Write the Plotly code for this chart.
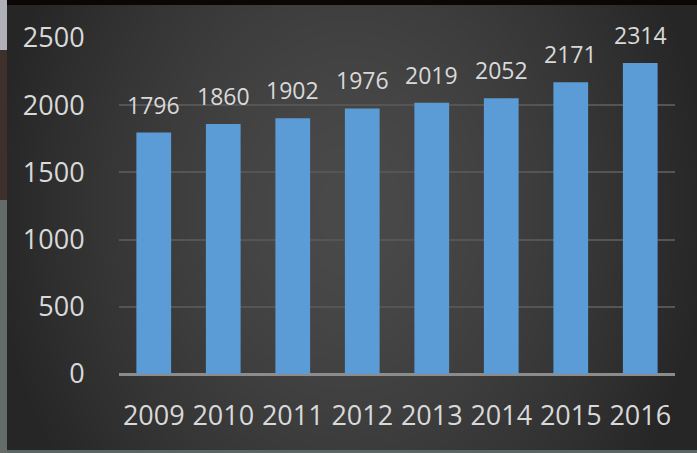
import base64, struct, zlib
import numpy as np
import plotly.graph_objects as go

years = ["2009", "2010", "2011", "2012", "2013", "2014", "2015", "2016"]
values = [1796, 1860, 1902, 1976, 2019, 2052, 2171, 2314]
y_ticks = [0, 500, 1000, 1500, 2000, 2500]

W, H = 697, 453
ML, MR, MT, MB = 119, 22, 38, 79


def make_png(arr):
    h, w, _ = arr.shape
    raw = b"".join(b"\x00" + arr[i].tobytes() for i in range(h))

    def chunk(tag, data):
        c = struct.pack(">I", len(data)) + tag + data
        return c + struct.pack(">I", zlib.crc32(tag + data) & 0xFFFFFFFF)

    png = b"\x89PNG\r\n\x1a\n"
    png += chunk(b"IHDR", struct.pack(">IIBBBBB", w, h, 8, 2, 0, 0, 0))
    png += chunk(b"IDAT", zlib.compress(raw, 9))
    png += chunk(b"IEND", b"")
    return "data:image/png;base64," + base64.b64encode(png).decode()


yy, xx = np.mgrid[0:H, 0:W].astype(float)
t = np.sqrt(((xx - 350) / 360.0) ** 2 + ((yy - 210) / 450.0) ** 2)
t = np.clip(t, 0, 1) ** 1.5
g = 74 - (74 - 38) * t
bg = np.stack([g, g, g], axis=-1)
bg[yy < 5] = [12, 7, 4]
bg[yy >= 450] = [88, 102, 100]
lm = xx < 7
bg[lm & (yy < 50)] = [176, 176, 184]
bg[lm & (yy >= 50) & (yy < 200)] = [62, 48, 42]
bg[lm & (yy >= 200)] = [100, 108, 104]
bg_uri = make_png(np.clip(bg, 0, 255).astype(np.uint8))

pw = W - ML - MR
ph = H - MT - MB

fig = go.Figure()
fig.add_trace(go.Bar(
    x=years, y=values,
    marker=dict(color="#5b9bd6", line=dict(width=0)),
    width=0.5,
    hoverinfo="skip",
))

# value labels: x given as the category index on the category axis
for i, v in enumerate(values):
    fig.add_annotation(
        x=i, y=v, xref="x", yref="y", text=str(v), showarrow=False,
        xanchor="center", yanchor="bottom", yshift=10,
        font=dict(family="Open Sans", size=23, color="#d9d9d9"),
    )

fig.update_layout(
    width=W, height=H,
    margin=dict(l=ML, r=MR, t=MT, b=MB, pad=0, autoexpand=False),
    paper_bgcolor="rgba(0,0,0,0)",
    plot_bgcolor="rgba(0,0,0,0)",
    showlegend=False,
    images=[dict(
        source=bg_uri, xref="paper", yref="paper",
        x=-ML / pw, y=1 + MT / ph, sizex=W / pw, sizey=H / ph,
        xanchor="left", yanchor="top", sizing="stretch", layer="below",
    )],
    xaxis=dict(
        type="category", categoryorder="array", categoryarray=years,
        range=[-0.5, len(years) - 0.5], automargin=False,
        showgrid=False, zeroline=False, showline=False,
        tickfont=dict(family="Open Sans", size=27, color="#d9d9d9"),
        ticks="outside", ticklen=18, tickcolor="rgba(0,0,0,0)",
    ),
    yaxis=dict(
        range=[0, 2500], tickvals=y_ticks, automargin=False,
        showgrid=True, gridcolor="#555555", gridwidth=1.5,
        zeroline=True, zerolinecolor="#8c8c8c", zerolinewidth=3,
        showline=False,
        tickfont=dict(family="Open Sans", size=27, color="#d9d9d9"),
        ticks="outside", ticklen=28, tickcolor="rgba(0,0,0,0)",
    ),
)

fig.write_html(
    "out.html",
    config={"displayModeBar": False},
    post_script="document.body.style.margin='0';document.body.style.padding='0';",
)
